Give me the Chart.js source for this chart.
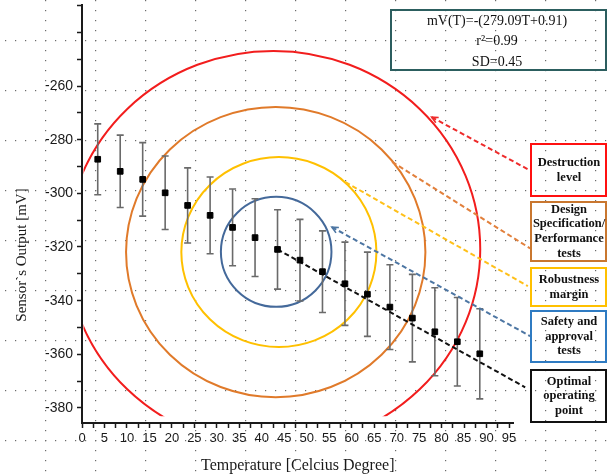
<!DOCTYPE html>
<html>
<head>
<meta charset="utf-8">
<script src="https://cdn.jsdelivr.net/npm/chart.js@4.4.1/dist/chart.umd.min.js"></script>
<style>
  html, body { margin: 0; padding: 0; background: #fff; }
  #wrap { width: 608px; height: 474px; }
</style>
</head>
<body>
<div id="wrap"><canvas id="sensorChart" width="608" height="474"></canvas></div>
<script>
// measured points (temperature, sensor output, error half-width)
const temps = [3.5, 8.5, 13.5, 18.5, 23.5, 28.5, 33.5, 38.5, 43.5, 48.5, 53.5, 58.5, 63.5, 68.5, 73.5, 78.5, 83.5, 88.5];
const output = [-287.3, -291.8, -294.8, -299.8, -304.5, -308.2, -312.7, -316.5, -320.9, -324.9, -329.2, -333.7, -337.6, -342.4, -346.5, -351.6, -355.3, -359.8];
const outputErr = [13.2, 13.5, 13.7, 13.7, 14.0, 14.3, 14.3, 14.5, 14.8, 15.2, 15.2, 15.5, 15.7, 15.8, 16.3, 16.4, 16.5, 16.8];

// rings around the operating point, in data units (outer -> inner)
const ringCx = [42.6, 43.1, 43.8, 43.2];
const ringCy = [-320.8, -321.9, -321.9, -321.8];
const ringRx = [46.0, 33.3, 21.7, 12.3];
const ringRy = [73.9, 54.1, 35.4, 20.5];
const redArcFloor = -383.1;

// dashed pointers from each ring to its label box
const pointerFromX = [77.8, 69.0, 58.6, 55.6, 43.5];
const pointerFromY = [-271.6, -288.3, -295.8, -312.6, -320.9];
const pointerToX = [99.6, 99.7, 99.2, 99.7, 98.6];
const pointerToY = [-291.4, -320.5, -334.6, -353.2, -372.3];
const pointerArrow = [true, false, false, true, false];

const boxLabels = [
  ['Destruction', 'level'],
  ['Design', 'Specification/', 'Performance', 'tests'],
  ['Robustness', 'margin'],
  ['Safety and', 'approval', 'tests'],
  ['Optimal', 'operating', 'point']
];
const fitText = ['mV(T)=-(279.09T+0.91)', 'r\u00B2=0.99', 'SD=0.45'];

const ringColors = ['#f21d1d', '#e07a2a', '#ffc000', '#44699a'];
const pointerColors = ['#ee2b2b', '#e2803c', '#ffc01a', '#4d76a3', '#111111'];
const boxColors = ['#ff1010', '#c9772f', '#ffc000', '#2f7bc2', '#111111'];
const boxTop = [144, 202, 268, 311, 370];
const boxBottom = [196, 261, 306, 362, 422];

const decorPlugin = {
  id: 'decor',
  beforeDraw(chart) {
    const { ctx, width, height } = chart;
    ctx.save();
    ctx.fillStyle = '#fff';
    ctx.fillRect(0, 0, width, height);
    // page dot grid
    ctx.fillStyle = '#6a6a6a';
    for (let y = 40; y < height; y += 50)
      for (let x = 5; x < width; x += 10) ctx.fillRect(x, y, 1.2, 1.2);
    for (let x = 45; x < width; x += 50)
      for (let y = 0; y < height; y += 10) ctx.fillRect(x, y, 1.2, 1.2);
    ctx.restore();
  },
  beforeDatasetsDraw(chart) {
    const { ctx, chartArea, scales: { x, y } } = chart;
    ringCx.forEach((cx, i) => {
      const px = x.getPixelForValue(cx);
      const py = y.getPixelForValue(ringCy[i]);
      const rx = x.getPixelForValue(cx + ringRx[i]) - px;
      const ry = py - y.getPixelForValue(ringCy[i] + ringRy[i]);
      ctx.save();
      if (i === 0) {
        ctx.beginPath();
        ctx.rect(chartArea.left + 1.5, 0, chart.width, y.getPixelForValue(redArcFloor));
        ctx.clip();
      }
      ctx.beginPath();
      ctx.ellipse(px, py, rx, ry, 0, 0, Math.PI * 2);
      ctx.strokeStyle = ringColors[i];
      ctx.lineWidth = 2;
      ctx.stroke();
      ctx.restore();
    });

    // error bars
    ctx.save();
    ctx.strokeStyle = '#6a6a6a';
    ctx.lineWidth = 1.6;
    temps.forEach((t, i) => {
      const px = x.getPixelForValue(t);
      const top = y.getPixelForValue(output[i] + outputErr[i]);
      const bot = y.getPixelForValue(output[i] - outputErr[i]);
      ctx.beginPath();
      ctx.moveTo(px, top); ctx.lineTo(px, bot);
      ctx.moveTo(px - 3.5, top); ctx.lineTo(px + 3.5, top);
      ctx.moveTo(px - 3.5, bot); ctx.lineTo(px + 3.5, bot);
      ctx.stroke();
    });
    ctx.restore();
  },
  afterDraw(chart) {
    const { ctx, scales: { x, y } } = chart;
    ctx.save();

    // arrow heads
    pointerFromX.forEach((fx, i) => {
      if (!pointerArrow[i]) return;
      const ax = x.getPixelForValue(fx), ay = y.getPixelForValue(pointerFromY[i]);
      const bx = x.getPixelForValue(pointerToX[i]), by = y.getPixelForValue(pointerToY[i]);
      const ang = Math.atan2(by - ay, bx - ax);
      ctx.strokeStyle = pointerColors[i];
      ctx.lineWidth = 1.6;
      ctx.beginPath();
      ctx.moveTo(ax + 7 * Math.cos(ang - 0.45), ay + 7 * Math.sin(ang - 0.45));
      ctx.lineTo(ax, ay);
      ctx.lineTo(ax + 7 * Math.cos(ang + 0.45), ay + 7 * Math.sin(ang + 0.45));
      ctx.stroke();
    });

    // y axis title
    ctx.save();
    ctx.translate(22, 255);
    ctx.rotate(-Math.PI / 2);
    ctx.font = '15px "Liberation Serif"';
    ctx.fillStyle = '#1a1a1a';
    ctx.textAlign = 'center';
    ctx.textBaseline = 'middle';
    ctx.fillText('Sensor`s Output [mV]', 0, 0);
    ctx.restore();

    // label boxes
    ctx.textAlign = 'center';
    ctx.textBaseline = 'middle';
    ctx.font = 'bold 12.5px "Liberation Serif"';
    boxLabels.forEach((lines, i) => {
      ctx.strokeStyle = boxColors[i];
      ctx.lineWidth = 2;
      ctx.strokeRect(531, boxTop[i], 75, boxBottom[i] - boxTop[i]);
      ctx.fillStyle = '#111';
      const mid = (boxTop[i] + boxBottom[i]) / 2;
      const lh = 14.6;
      lines.forEach((s, k) => {
        ctx.fillText(s, 569, mid + (k - (lines.length - 1) / 2) * lh);
      });
    });

    // fit summary box
    ctx.strokeStyle = '#2c5e5f';
    ctx.lineWidth = 2;
    ctx.strokeRect(391, 10, 215, 60);
    ctx.font = '14px "Liberation Serif"';
    ctx.fillStyle = '#111';
    fitText.forEach((s, k) => ctx.fillText(s, 497, 21 + k * 20.5));
    ctx.restore();
  }
};

const pointerSets = pointerFromX.map((fx, i) => ({
  type: 'line',
  data: [{ x: fx, y: pointerFromY[i] }, { x: pointerToX[i], y: pointerToY[i] }],
  borderColor: pointerColors[i],
  borderWidth: 2,
  borderDash: [5, 3],
  pointRadius: 0,
  fill: false,
  clip: false,
  order: 2
}));

new Chart(document.getElementById('sensorChart').getContext('2d'), {
  type: 'scatter',
  data: {
    datasets: [{
      label: 'Sensor output',
      data: temps.map((t, i) => ({ x: t, y: output[i] })),
      pointStyle: 'rect',
      pointRadius: 4,
      pointHoverRadius: 4,
      backgroundColor: '#000',
      borderColor: '#000',
      borderWidth: 1,
      order: 0
    }, ...pointerSets]
  },
  options: {
    responsive: false,
    animation: false,
    devicePixelRatio: 1,
    layout: { padding: { left: 0, right: 94.5, top: 0, bottom: 0 } },
    plugins: { legend: { display: false }, tooltip: { enabled: false } },
    scales: {
      x: {
        type: 'linear',
        min: 0,
        max: 96,
        afterFit(scale) { scale.height = 51; scale.paddingLeft = 0; scale.paddingRight = 0; },
        border: { display: true, color: '#1a1a1a', width: 2 },
        grid: { display: true, drawOnChartArea: false, drawTicks: true, tickLength: 5, tickColor: '#1a1a1a', tickWidth: 1.5 },
        ticks: {
          stepSize: 2.5,
          includeBounds: false,
          autoSkip: false,
          maxRotation: 0,
          minRotation: 0,
          padding: 3,
          color: '#1a1a1a',
          font: { family: '"Liberation Sans"', size: 13 },
          callback: v => (v % 5 === 0 && v <= 95) ? String(v) : ''
        },
        title: {
          display: true,
          text: 'Temperature [Celcius Degree]',
          color: '#1a1a1a',
          font: { family: '"Liberation Serif"', size: 16, lineHeight: 1 },
          padding: { top: 0, bottom: 0 }
        }
      },
      y: {
        type: 'linear',
        min: -385.6,
        max: -229.8,
        afterFit(scale) { scale.width = 82; scale.paddingTop = 0; scale.paddingBottom = 0; },
        border: { display: true, color: '#1a1a1a', width: 2 },
        grid: { display: true, drawOnChartArea: false, drawTicks: true, tickLength: 5, tickColor: '#1a1a1a', tickWidth: 1.5 },
        ticks: {
          stepSize: 10,
          includeBounds: false,
          padding: 4,
          color: '#1a1a1a',
          font: { family: '"Liberation Sans"', size: 14 },
          callback: v => (v % 20 === 0 && v <= -260) ? String(v) : ''
        }
      }
    }
  },
  plugins: [decorPlugin]
});
</script>
</body>
</html>
